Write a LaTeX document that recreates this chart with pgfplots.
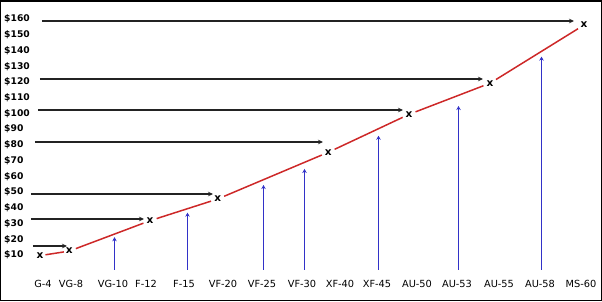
\documentclass[border=0pt]{standalone}
\usepackage{pgfplots}
\pgfplotsset{compat=1.18}
\usepackage{pgfplotstable}
\usepackage{fontspec}
\setmainfont{DejaVu Sans}
\usetikzlibrary{arrows.meta}
\definecolor{redline}{RGB}{205,40,40}
\definecolor{bluearr}{RGB}{50,50,200}
\definecolor{blackarr}{RGB}{35,35,35}

\pgfplotstableread{
x y
40 9.6
69.3 12.5
150 31.8
217.7 45.6
328.3 75.3
409 99.4
490 119.2
584 156.2
}\xmarks

\pgfplotstableread{
x y u v
114.5 0.5 0 20.8
187.5 0.5 0 36.4
263.5 0.5 0 54.0
304.5 0.5 0 64.2
378.5 0.5 0 85.3
458.5 0.5 0 104.2
541.5 0.5 0 135.6
}\bluearrows

\pgfplotstableread{
x y u v
33 15.72 34 0
31 32.89 113 0
31 48.78 182 0
35 81.84 288 0
38 102.18 365 0
40 121.89 443 0
42 158.76 532 0
}\blackarrows

\begin{document}
\begin{tikzpicture}
\useasboundingbox (-30pt,-29pt) rectangle (572pt,272pt);
\begin{axis}[
  scale only axis, width=568pt, height=267pt,
  xmin=30, xmax=598, ymin=-0.8074, ymax=168.93,
  axis line style={draw=none}, major tick length=0pt, tick style={draw=none},
  clip=false,
  xtick={43,71,113,146,184,223,262,302,340,377,417,457,499,540,581},
  xticklabels={G-4,VG-8,VG-10,F-12,F-15,VF-20,VF-25,VF-30,XF-40,XF-45,AU-50,AU-53,AU-55,AU-58,MS-60},
  ytick={10,20,30,40,50,60,70,80,90,100,110,120,130,140,150,160},
  yticklabels={\$10,\$20,\$30,\$40,\$50,\$60,\$70,\$80,\$90,\$100,\$110,\$120,\$130,\$140,\$150,\$160},
  xticklabel style={font=\fontsize{9.8}{11}\selectfont, yshift=-4.5pt},
  yticklabel style={font=\fontsize{9.2}{10}\selectfont\bfseries, anchor=west, xshift=-29.3pt},
  red seg/.style={redline, line width=1.5pt, mark=none, shorten <=7pt, shorten >=7pt},
]
\addplot[red seg, shorten <=5.5pt, shorten >=5.5pt] coordinates {(40,9.6) (69.3,12.5)};
\addplot[red seg] coordinates {(69.3,12.5) (150,31.8)};
\addplot[red seg] coordinates {(150,31.8) (217.7,45.6)};
\addplot[red seg] coordinates {(217.7,45.6) (328.3,75.3)};
\addplot[red seg] coordinates {(328.3,75.3) (409,99.4)};
\addplot[red seg] coordinates {(409,99.4) (490,119.2)};
\addplot[red seg] coordinates {(490,119.2) (584,156.2)};
\addplot[black, only marks, mark=text, text mark={x}, text mark as node=true,
  text mark style={inner sep=0pt, font=\fontsize{10.5}{10.5}\selectfont\bfseries}] table {\xmarks};
\addplot[bluearr, line width=1.6pt, no markers, -{Stealth[length=4pt,width=4.5pt]},
  quiver={u=\thisrow{u}, v=\thisrow{v}}] table {\bluearrows};
\addplot[blackarr, line width=1.6pt, no markers, -{Stealth[length=5pt,width=4.5pt]},
  quiver={u=\thisrow{u}, v=\thisrow{v}}] table {\blackarrows};
\end{axis}
\draw[line width=1.5pt] (-29.25pt,-28.25pt) rectangle (571.25pt,271.25pt);
\end{tikzpicture}
\end{document}
